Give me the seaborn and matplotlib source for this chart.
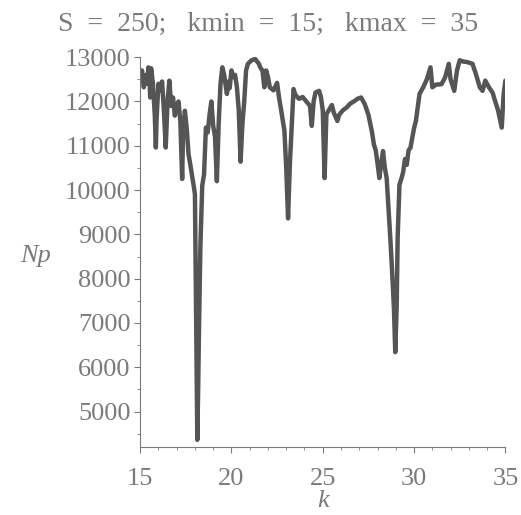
import matplotlib
matplotlib.use('Agg')
import matplotlib.pyplot as plt
from matplotlib.ticker import MultipleLocator
import seaborn as sns
import pandas as pd

# values
k_values = [15.0, 15.05, 15.1, 15.2, 15.3, 15.4, 15.45, 15.5, 15.55, 15.6, 15.7, 15.8, 15.86, 15.9,
            16.0, 16.1, 16.2, 16.3, 16.4, 16.5, 16.6, 16.7, 16.8, 16.9,
            17.0, 17.1, 17.2, 17.3, 17.35, 17.45, 17.55, 17.65, 17.75, 17.85, 17.95,
            18.0, 18.05, 18.1, 18.13, 18.18, 18.22, 18.3, 18.4, 18.5, 18.6, 18.7, 18.8, 18.9,
            19.0, 19.1, 19.2, 19.3, 19.4, 19.5, 19.6, 19.75, 19.85, 19.9,
            20.0, 20.1, 20.2, 20.3, 20.4, 20.5, 20.6, 20.7, 20.8, 20.9,
            21.1, 21.3, 21.5, 21.6, 21.7, 21.8, 21.9, 22.0, 22.1, 22.3, 22.5, 22.6, 22.7, 22.8, 22.9,
            23.0, 23.1, 23.2, 23.3, 23.4, 23.5, 23.7, 23.9, 24.0, 24.2, 24.3, 24.4, 24.5, 24.6, 24.8, 24.9,
            25.0, 25.1, 25.2, 25.4, 25.5, 25.6, 25.8, 25.9, 26.1, 26.3, 26.5, 26.7, 26.9,
            27.1, 27.3, 27.5, 27.7, 27.8, 27.9, 28.0, 28.1, 28.2, 28.3, 28.4, 28.5, 28.6, 28.7, 28.8, 28.9,
            28.97, 29.05, 29.1, 29.2, 29.3, 29.4, 29.5, 29.6, 29.7, 29.8, 30.0, 30.1, 30.3, 30.5, 30.7, 30.9,
            31.0, 31.2, 31.5, 31.7, 31.9, 32.0, 32.2, 32.35, 32.5, 32.7, 32.9,
            33.2, 33.4, 33.6, 33.75, 33.9, 34.1, 34.3, 34.4, 34.6, 34.8, 34.9, 35.0]
np_values = [12550, 12480, 12700, 12320, 12600, 12400, 12770, 12620, 12090, 12750, 12400, 11700, 10960, 11600,
             12400, 12240, 12450, 11800, 10960, 12000, 12470, 11900, 12090, 11680,
             11900, 12000, 11560, 10250, 11300, 11790, 11400, 10810, 10570, 10300, 10050,
             9900, 7770, 5500, 4360, 5600, 6800, 8760, 10100, 10360, 11410, 11300, 11700, 12000,
             11450, 11200, 10200, 11500, 12400, 12770, 12600, 12170, 12450, 12300,
             12700, 12550, 12600, 12320, 11800, 10640, 11500, 12000, 12700, 12850,
             12930, 12960, 12850, 12750, 12700, 12320, 12700, 12550, 12320, 12250, 12420, 12100, 11860, 11600, 11340,
             10500, 9360, 10600, 11420, 12280, 12150, 12060, 12100, 12050, 11950, 11900, 11450, 12000, 12200, 12240, 12100,
             11800, 10270, 11710, 11850, 11920, 11750, 11560, 11700, 11800, 11860, 11950, 12000, 12060,
             12090, 11940, 11700, 11300, 11030, 10900, 10600, 10270, 10600, 10880, 10500, 10270, 9600, 8910, 8150, 7300,
             6340, 7400, 8910, 10120, 10250, 10400, 10700, 10570, 10900, 10950, 11400, 11560, 12170, 12320, 12500, 12770,
             12320, 12380, 12390, 12540, 12850, 12500, 12240, 12700, 12930, 12900, 12890,
             12850, 12600, 12320, 12240, 12470, 12320, 12200, 12060, 11800, 11410, 12140, 12470]

title_text = 'S  =  250;   kmin  =  15;   kmax  =  35'

df = pd.DataFrame({'k': k_values, 'Np': np_values})

sns.set_style('ticks')
plt.rcParams['font.family'] = ['Liberation Serif', 'DejaVu Serif']
grey = '#7a7a7a'

fig, ax = plt.subplots(figsize=(5.21, 5.15), dpi=100)
fig.subplots_adjust(left=0.269, right=0.97, top=0.889, bottom=0.132)

sns.lineplot(data=df, x='k', y='Np', ax=ax, color='#555555', linewidth=3.2)

ax.set_xlim(15, 35)
ax.set_ylim(4200, 13000)
ax.xaxis.set_major_locator(MultipleLocator(5))
ax.xaxis.set_minor_locator(MultipleLocator(1))
ax.yaxis.set_major_locator(MultipleLocator(1000))
ax.yaxis.set_minor_locator(MultipleLocator(500))
ax.tick_params(axis='both', which='major', labelsize=19, colors=grey, length=4, width=0.8)
ax.tick_params(axis='x', which='major', pad=11)
ax.tick_params(axis='y', which='major', pad=3)
ax.tick_params(axis='both', which='minor', colors=grey, length=2, width=0.6)
for side in ['top', 'right']:
    ax.spines[side].set_visible(False)
for side in ['left', 'bottom']:
    ax.spines[side].set_color(grey)
    ax.spines[side].set_linewidth(0.8)

fig.text(0.515, 0.953, title_text, fontsize=20, color=grey, ha='center', va='center')
ax.set_xlabel('k', fontsize=19, style='italic', color=grey, labelpad=0)
ax.set_ylabel('Np', fontsize=19, style='italic', color=grey, rotation=0, va='center')
ax.yaxis.set_label_coords(-0.285, 0.49)

plt.savefig('out.png', dpi=100)
